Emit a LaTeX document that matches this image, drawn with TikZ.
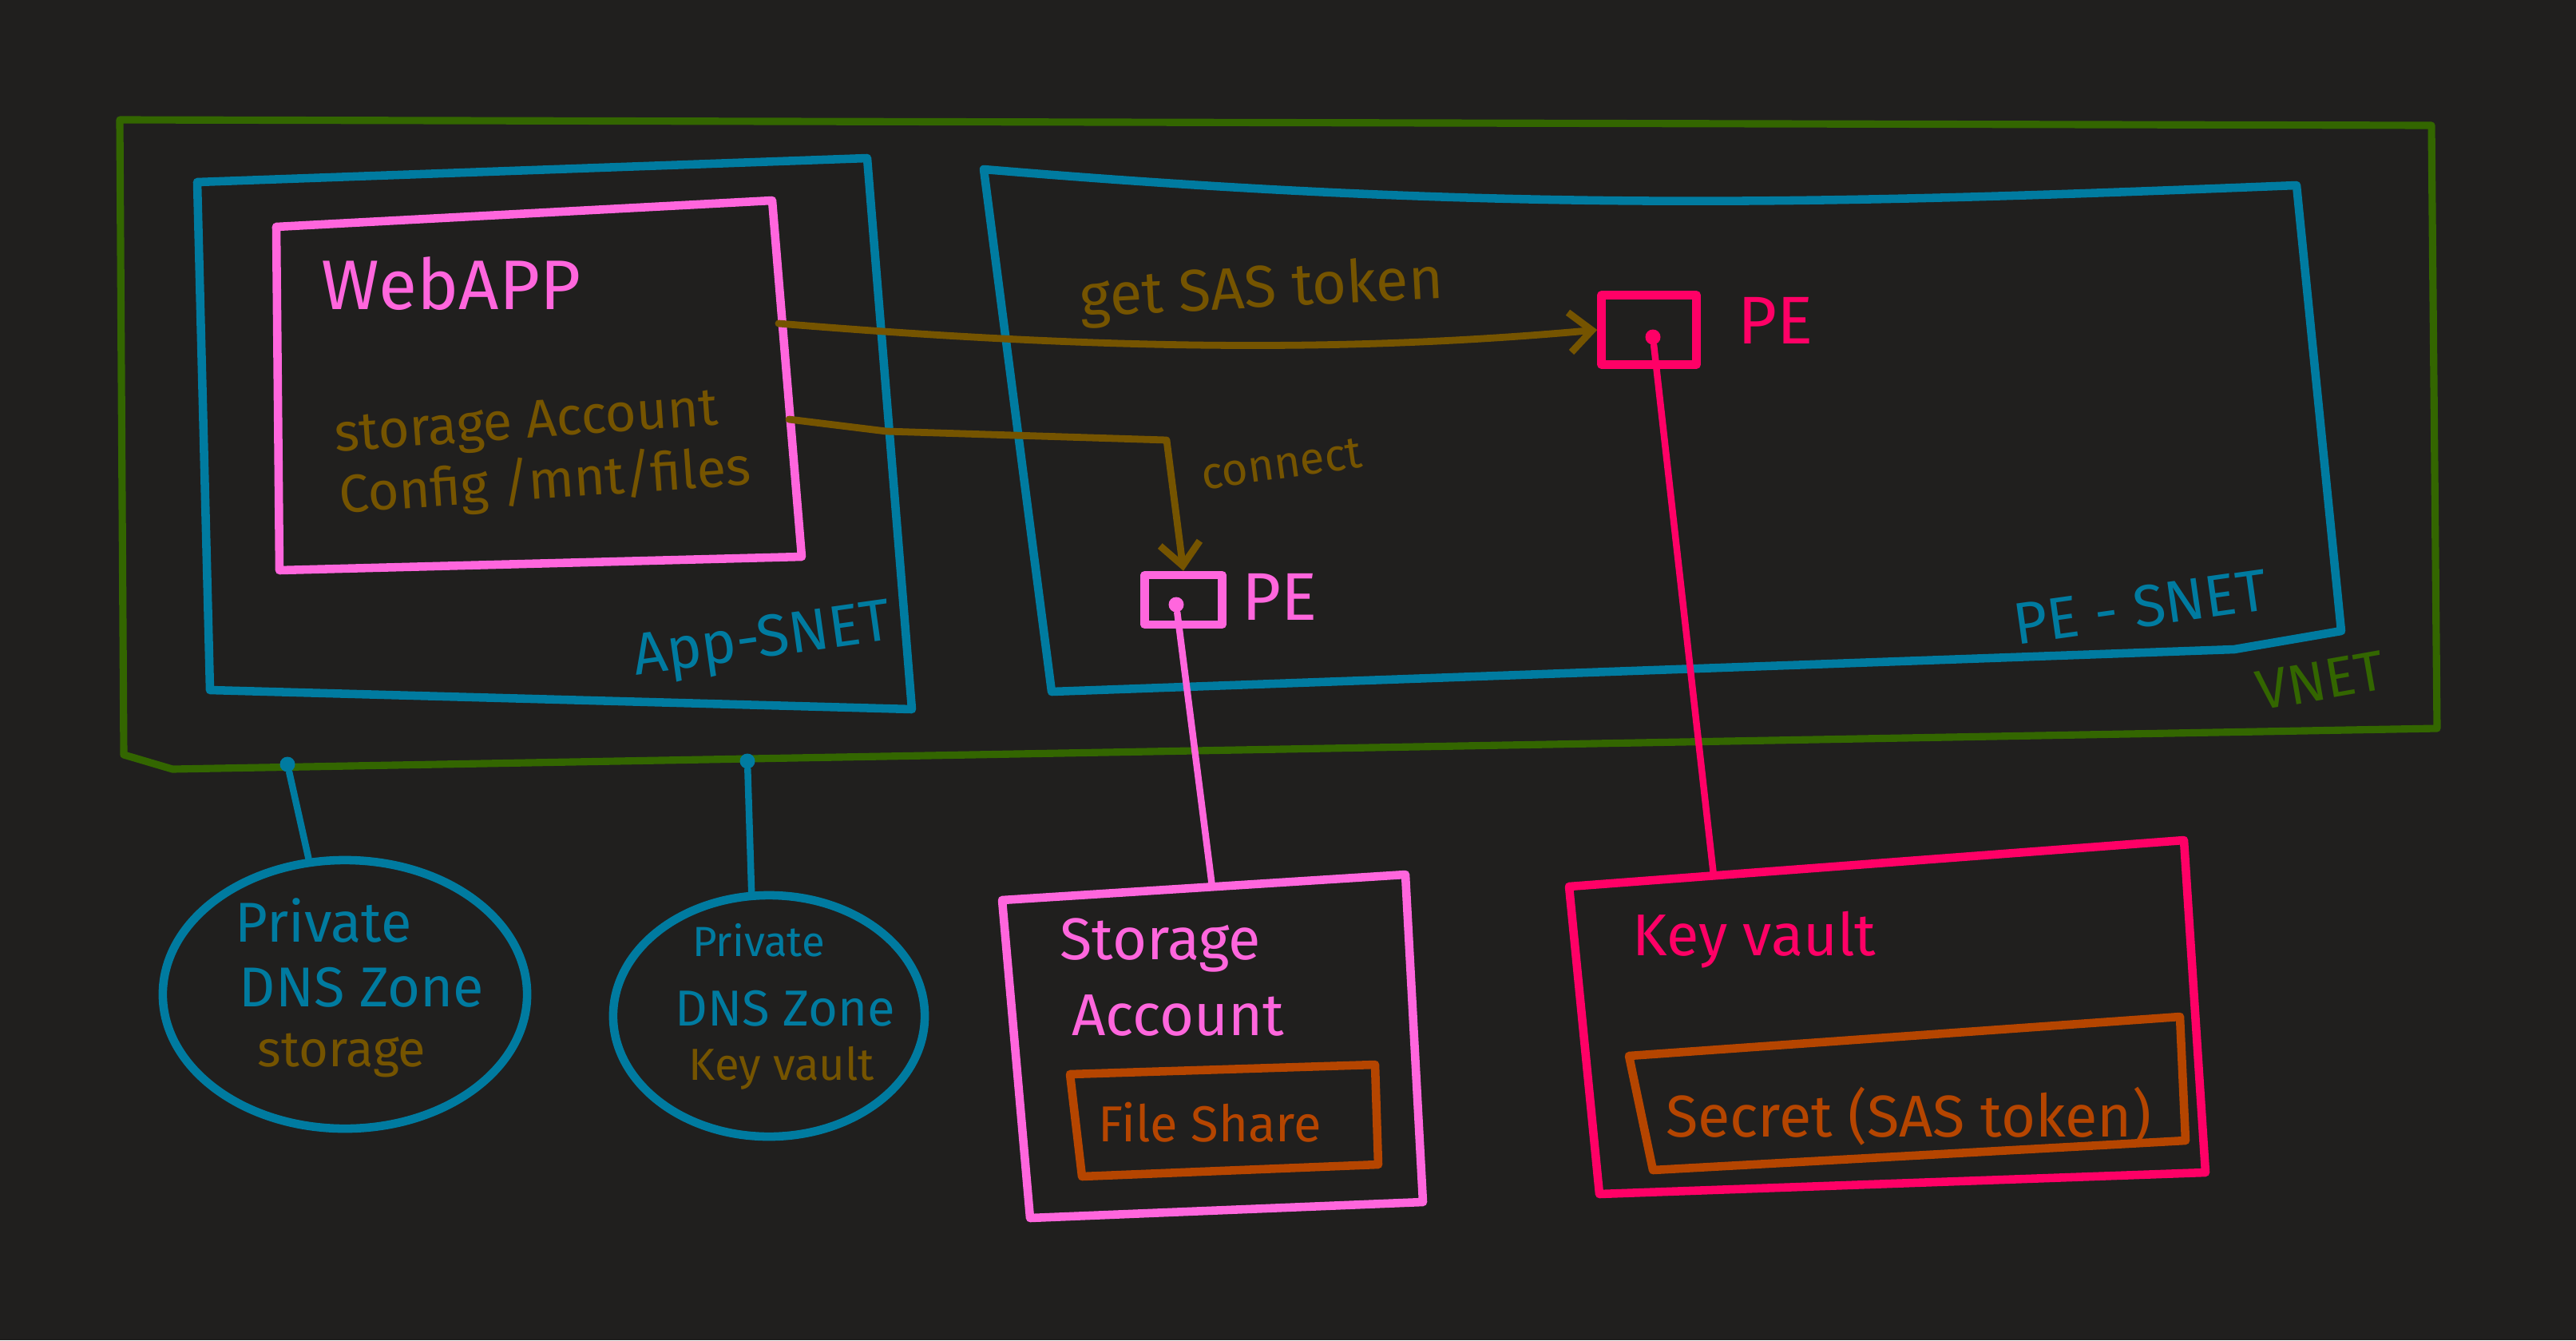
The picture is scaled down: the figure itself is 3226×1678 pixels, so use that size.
\documentclass[tikz,border=0pt]{standalone}
\usepackage{fontspec}
\setmainfont{Fira Sans}
\usetikzlibrary{arrows.meta,shapes.geometric}
\definecolor{bgdark}{HTML}{201F1E}
\definecolor{vnetgreen}{HTML}{336600}
\definecolor{snetblue}{HTML}{007BA0}
\definecolor{apppink}{HTML}{FF66DD}
\definecolor{kvpink}{HTML}{FF0066}
\definecolor{notebrown}{HTML}{755400}
\definecolor{shareorange}{HTML}{B54500}

\begin{document}
\begin{tikzpicture}[
    x=0.01cm, y=-0.01cm,
    sketch/.style={line width=3pt, line cap=round, line join=round},
    handtext/.style={inner sep=0pt, anchor=center},
    pebox/.style={sketch, draw, minimum width=1.1cm, minimum height=0.8cm, inner sep=0pt},
    pedot/.style={circle, fill, inner sep=0pt, minimum size=0.19cm},
    dnszone/.style={sketch, draw=snetblue, ellipse, inner sep=0pt},
    flow/.style={sketch, draw=notebrown, line width=2.5pt, -{Straight Barb[length=0.28cm, width=0.5cm, line width=2.5pt]}}
]

% Background
\fill[bgdark] (0,0) rectangle (3226,1678);

% VNET and subnets
\draw[sketch, vnetgreen, line width=2.6pt] (150,150) -- (3045,157) -- (3052,912) -- (216,963) -- (155,945) -- cycle;
\draw[sketch, snetblue] (247,228) -- (1086,198) -- (1142,888) -- (263,864) -- cycle;
\draw[sketch, snetblue] (1232,212) .. controls (1900,268) and (2300,255) .. (2876,232) -- (2932,790) -- (2798,813) -- (1317,866) -- cycle;

% WebApp
\draw[sketch, apppink] (346,284) -- (967,251) -- (1004,697) -- (350,714) -- cycle;
\node[handtext, apppink, font={\fontsize{25}{30}\selectfont}] (webapp) at (565,355) {WebAPP};
\node[handtext, notebrown, align=left, rotate=4, font={\fontsize{19}{22}\selectfont}] (saconfig) at (680,570) {storage Account\\Config /mnt/files};
\coordinate (webget) at (975,405);
\coordinate (webconn) at (988,525);

% Private endpoints
\node[pebox, kvpink, minimum width=1.19cm, minimum height=0.87cm] (pekv) at (2065,413) {};
\node[pedot, kvpink] (kvdot) at (2070,422) {};
\node[handtext, kvpink, font={\fontsize{24}{28}\selectfont}] (pekvlabel) at (2224,401) {PE};
\node[pebox, apppink, minimum width=0.97cm, minimum height=0.62cm] (pesa) at (1482,751) {};
\node[pedot, apppink] (sadot) at (1473,757) {};
\node[handtext, apppink, font={\fontsize{24}{28}\selectfont}] (pesalabel) at (1603,747) {PE};

% Subnet labels
\node[handtext, snetblue, rotate=8, font={\fontsize{21}{25}\selectfont}] (appsnet) at (955,805) {App-SNET};
\node[handtext, snetblue, rotate=8, font={\fontsize{21}{25}\selectfont}] (pesnet) at (2680,760) {PE - SNET};
\node[handtext, vnetgreen, rotate=10, font={\fontsize{20}{24}\selectfont}] (vnet) at (2906,852) {VNET};

% Flows
\coordinate (connbend) at (1461,551);
\draw[flow] (webget) .. controls (1400,440) and (1700,440) .. (pekv.west);
\draw[flow] (webconn) -- (1110,540) -- (connbend) -- (pesa.north);
\node[handtext, notebrown, rotate=3, font={\fontsize{21}{25}\selectfont}] (getsas) at (1580,365) {get SAS token};
\node[handtext, notebrown, rotate=8, font={\fontsize{16}{19}\selectfont}] (connect) at (1605,581) {connect};

% Private DNS zones
\node[pedot, snetblue] (dnsstlink) at (360,957) {};
\node[pedot, snetblue] (dnskvlink) at (936,953) {};
\node[dnszone, minimum width=4.56cm, minimum height=3.36cm] (dnsst) at (432,1245) {};
\node[dnszone, minimum width=3.9cm, minimum height=3.02cm] (dnskv) at (963,1272) {};
\draw[sketch, snetblue, line width=2.4pt] (dnsstlink) -- (dnsst.105);
\draw[sketch, snetblue, line width=2.4pt] (dnskvlink) -- (dnskv.98);
\node[handtext, snetblue, font={\fontsize{20}{24}\selectfont}] (dnsst1) at (405,1152) {Private};
\node[handtext, snetblue, font={\fontsize{20}{24}\selectfont}] (dnsst2) at (453,1236) {DNS Zone};
\node[handtext, notebrown, font={\fontsize{18}{22}\selectfont}] (dnsst3) at (428,1321) {storage};
\node[handtext, snetblue, font={\fontsize{15}{18}\selectfont}] (dnskv1) at (950,1177) {Private};
\node[handtext, snetblue, font={\fontsize{18}{22}\selectfont}] (dnskv2) at (983,1263) {DNS Zone};
\node[handtext, notebrown, font={\fontsize{16}{19}\selectfont}] (dnskv3) at (979,1337) {Key vault};

% Storage Account
\draw[sketch, apppink] (1255,1127) -- (1760,1095) -- (1782,1505) -- (1290,1525) -- cycle;
\coordinate (satop) at (1518,1110);
\draw[sketch, apppink, line width=2.4pt] (sadot) -- (satop);
\node[handtext, apppink, font={\fontsize{21}{25}\selectfont}] (satitle1) at (1453,1183) {Storage};
\node[handtext, apppink, font={\fontsize{21}{25}\selectfont}] (satitle2) at (1475,1271) {Account};
\draw[sketch, shareorange] (1340,1345) -- (1722,1333) -- (1726,1458) -- (1355,1473) -- cycle;
\node[handtext, shareorange, font={\fontsize{18}{22}\selectfont}] (fileshare) at (1515,1405) {File Share};

% Key vault
\draw[sketch, kvpink] (1965,1110) -- (2735,1052) -- (2762,1468) -- (2003,1495) -- cycle;
\coordinate (kvtop) at (2146,1096);
\draw[sketch, kvpink, line width=2.4pt] (kvdot) -- (kvtop);
\node[handtext, kvpink, font={\fontsize{21}{25}\selectfont}] (kvtitle) at (2197,1177) {Key vault};
\draw[sketch, shareorange] (2040,1322) -- (2730,1273) -- (2737,1428) -- (2070,1465) -- cycle;
\node[handtext, shareorange, font={\fontsize{21}{25}\selectfont}] (secret) at (2390,1398) {Secret (SAS token)};

\end{tikzpicture}
\end{document}
